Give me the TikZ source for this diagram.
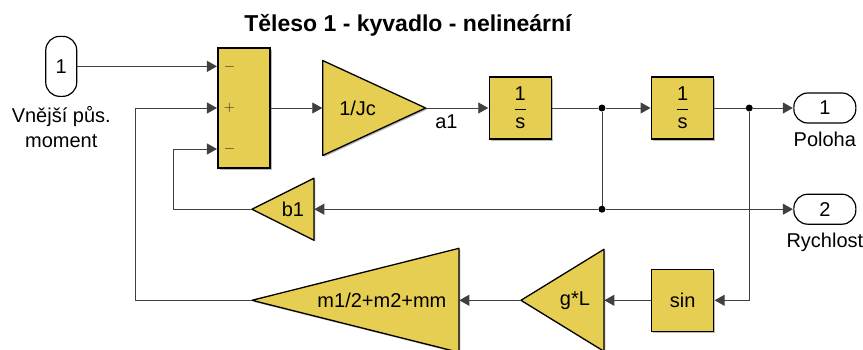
\documentclass[tikz,border=0pt]{standalone}
\usepackage{fontspec}
\setmainfont{Liberation Sans}
\usetikzlibrary{positioning,shadows,arrows.meta}

\definecolor{blkyellow}{RGB}{230,206,82}
\definecolor{wire}{RGB}{64,64,64}

\tikzset{
  blk/.style={draw=black, line width=1.3pt, fill=blkyellow,
    drop shadow={shadow xshift=1.5pt, shadow yshift=-1.5pt, fill=black!45, opacity=.6}},
  sumblk/.style={blk, minimum width=52pt, minimum height=120pt, inner sep=0pt},
  intblk/.style={blk, minimum width=62pt, minimum height=62pt, inner sep=0pt},
  tri/.style={rectangle, inner sep=0pt, outer sep=-2.5pt},
  % zesileni doprava (hrot vpravo)
  gainr/.style={tri, path picture={
    \fill[black!45, opacity=.6]
      ([shift={(4pt,-4pt)}]path picture bounding box.north west)
      -- ([shift={(-1pt,-1.5pt)}]path picture bounding box.east)
      -- ([shift={(4pt,1pt)}]path picture bounding box.south west) -- cycle;
    \draw[fill=blkyellow, line width=1.3pt, line join=round]
      ([shift={(2.5pt,-2.5pt)}]path picture bounding box.north west)
      -- ([shift={(-2.5pt,0pt)}]path picture bounding box.east)
      -- ([shift={(2.5pt,2.5pt)}]path picture bounding box.south west) -- cycle;}},
  % zesileni doleva (hrot vlevo)
  gainl/.style={tri, path picture={
    \fill[black!45, opacity=.6]
      ([shift={(-1pt,-4pt)}]path picture bounding box.north east)
      -- ([shift={(4pt,-1.5pt)}]path picture bounding box.west)
      -- ([shift={(-1pt,1pt)}]path picture bounding box.south east) -- cycle;
    \draw[fill=blkyellow, line width=1.3pt, line join=round]
      ([shift={(-2.5pt,-2.5pt)}]path picture bounding box.north east)
      -- ([shift={(2.5pt,0pt)}]path picture bounding box.west)
      -- ([shift={(-2.5pt,2.5pt)}]path picture bounding box.south east) -- cycle;}},
  port/.style={draw=black, line width=1.2pt, fill=white, rounded corners=14pt, inner sep=0pt},
  dot/.style={circle, fill=black, inner sep=0pt, minimum size=7pt},
  sign/.style={font=\fontsize{14}{14}\selectfont, text=black!85},
  sig/.style={wire, line width=0.9pt},
  arr/.style={sig, -{Triangle[length=10pt,width=11pt]}, shorten >=0.4pt},
}
\newcommand{\integ}{$\displaystyle\frac{\mbox{1}}{\mbox{s}}$}

\begin{document}
\begin{tikzpicture}[x=1pt, y=-1pt, font=\fontsize{20}{22}\selectfont]
  \useasboundingbox (0,0) rectangle (863,349);
  \node[font=\fontsize{23}{26}\selectfont\bfseries] (Title) at (408,25) {Těleso 1 - kyvadlo - nelineární};

  % horni vetev
  \node[sumblk] (S) at (244,108) {};
  \node[port, minimum width=31pt, minimum height=60pt, anchor=east, xshift=-140pt, yshift=-19pt] (In1) at (S.north west) {1};
  \node[align=center, font=\fontsize{20}{25}\selectfont, below=6pt of In1] (In1L) {Vnější půs.\\moment};
  \node[gainr, minimum width=108pt, minimum height=100pt, right=52pt of S] (J) {1/Jc\hspace*{33pt}};
  \node[intblk, right=63pt of J] (I1) {\integ};
  \node[intblk, right=99pt of I1] (I2) {\integ};
  \node[port, minimum width=62pt, minimum height=30pt, right=79pt of I2] (Out1) {1};
  \node[below=5pt of Out1] (Out1L) {Poloha};
  \node[dot, xshift=50pt] (P1) at (I1.east) {};
  \node[dot, xshift=35pt] (P2) at (I2.east) {};

  % prostredni vetev
  \node[port, minimum width=62pt, minimum height=30pt, below=70pt of Out1] (Out2) {2};
  \node[below=5pt of Out2] (Out2L) {Rychlost};
  \node[dot] (P3) at (P1 |- Out2) {};
  \node[gainl, minimum width=67pt, minimum height=67pt, anchor=east, xshift=-288pt] (B) at (P3) {\hspace*{20pt}b1};

  % spodni vetev
  \node[intblk, below=129pt of I2] (Sin) {sin};
  \node[gainl, minimum width=88pt, minimum height=107pt, left=47pt of Sin] (L) {\hspace*{25pt}g*L};
  \node[gainl, minimum width=212pt, minimum height=109pt, left=62pt of L] (M) {\hspace*{53pt}m1/2+m2+mm};

  % znamenka
  \node[sign, xshift=12pt, yshift=41pt] (Sg1) at (S.west) {$-$};
  \node[sign, xshift=12pt] (Sg2) at (S.west) {$+$};
  \node[sign, xshift=12pt, yshift=-41pt] (Sg3) at (S.west) {$-$};

  % spoje
  \draw[arr] (In1.east) -- (In1.east -| S.west);
  \draw[arr] (M.west) -- ++(-117,0) |- (S.west);
  \draw[arr] (B.west) -- ++(-79,0) |- ([yshift=-41pt]S.west);
  \draw[arr] (S.east) -- (J.west);
  \draw[arr] (J.east) -- node[pos=0.33, below=3pt, text=black] {a1} (I1.west);
  \draw[sig] (I1.east) -- (P1);
  \draw[arr] (P1) -- (I2.west);
  \draw[sig] (I2.east) -- (P2);
  \draw[arr] (P2) -- (Out1.west);
  \draw[sig] (P1) -- (P3);
  \draw[arr] (P3) -- (Out2.west);
  \draw[arr] (P3) -- (B.east);
  \draw[arr] (P2) |- (Sin.east);
  \draw[arr] (Sin.west) -- (L.east);
  \draw[arr] (L.west) -- (M.east);
\end{tikzpicture}
\end{document}
